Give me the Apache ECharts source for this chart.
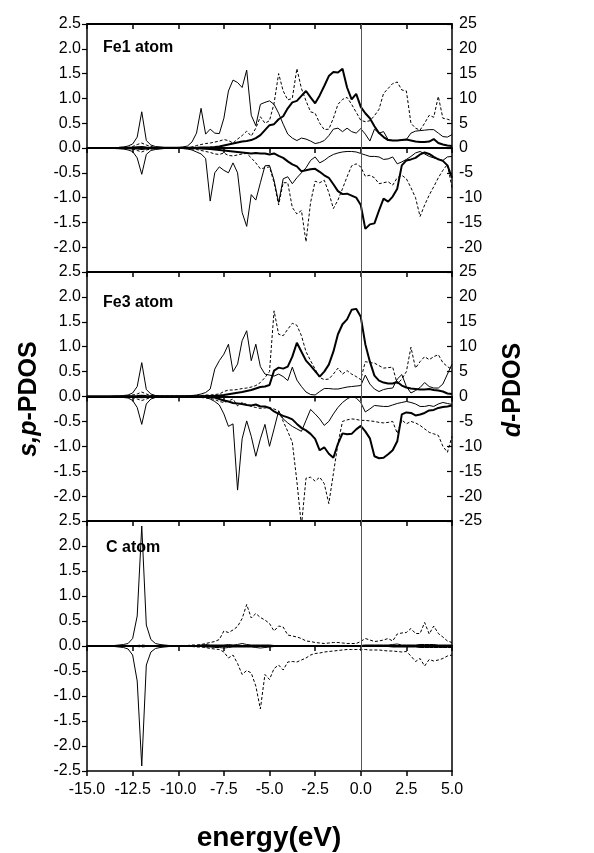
<!DOCTYPE html>
<html><head><meta charset="utf-8">
<script src="https://cdn.jsdelivr.net/npm/echarts@6/dist/echarts.min.js"></script>
<style>html,body{margin:0;padding:0;background:#fff}#c{width:594px;height:853px}</style>
</head><body><div id="c"></div>
<script>
// energy grid (eV)
const energy = [-15,-14.75,-14.5,-14.25,-14,-13.75,-13.5,-13.25,-13,-12.75,-12.5,-12.25,-12,-11.75,-11.5,-11.25,-11,-10.75,-10.5,-10.25,-10,-9.75,-9.5,-9.25,-9,-8.75,-8.5,-8.25,-8,-7.75,-7.5,-7.25,-7,-6.75,-6.5,-6.25,-6,-5.75,-5.5,-5.25,-5,-4.75,-4.5,-4.25,-4,-3.75,-3.5,-3.25,-3,-2.75,-2.5,-2.25,-2,-1.75,-1.5,-1.25,-1,-0.75,-0.5,-0.25,0,0.25,0.5,0.75,1,1.25,1.5,1.75,2,2.25,2.5,2.75,3,3.25,3.5,3.75,4,4.25,4.5,4.75,5];

// ---- Fe1 atom ----
const fe1SUp = [0,0,0,0, 0,0,0.01,0.01, 0.02,0.04,0.08,0.22, 0.73,0.15,0.06,0.03, 0.02,0.01,0.01,0.01, 0.01,0.02,0.04,0.12, 0.30,0.80,0.28,0.38, 0.30,0.29,0.60,1.15, 1.37,1.32,1.22,1.57, 0.66,0.45,0.88,0.92, 0.95,0.88,0.70,0.48, 0.28,0.20,0.15,0.20, 0.18,0.14,0.09,0.11, 0.15,0.25,0.38,0.40, 0.33,0.40,0.33,0.30, 0.39,0.28,0.14,0.38, 0.30,0.33,0.17,0.15, 0.15,0.16,0.17,0.30, 0.34,0.35,0.36,0.37, 0.37,0.30,0.23,0.22, 0.27];
const fe1PUp = [0,0,0,0, 0,0,0,0, 0,0.01,0.03,0.07, 0.10,0.06,0.03,0.01, 0.01,0.01,0.01,0.01, 0.01,0.01,0.01,0.02, 0.05,0.07,0.09,0.10, 0.12,0.14,0.17,0.15, 0.10,0.18,0.25,0.34, 0.24,0.40,0.63,0.50, 0.55,0.90,1.50,1.15, 0.97,1.00,1.60,1.20, 0.95,0.73,0.70,0.50, 0.37,0.38,0.60,0.88, 0.98,1.02,0.88,0.72, 0.56,0.53,0.55,0.65, 0.78,1.10,1.20,1.30, 1.33,1.17,1.15,0.50, 0.40,0.36,0.50,0.66, 0.62,1.04,0.60,0.58, 0.55];
const fe1DUp = [0,0,0,0, 0,0,0.02,0.03, 0.05,0.07,0.1,0.15, 0.2,0.12,0.06,0.04, 0.03,0.03,0.03,0.03, 0.03,0.03,0.04,0.04, 0.05,0.1,0.12,0.15, 0.2,0.3,0.5,0.7, 0.9,1.1,1.3,1.4, 1.6,2.0,2.6,3.6, 4.6,4.8,5.8,6.4, 8.0,9.2,9.5,10.5, 11.5,10.2,9.0,10.6, 12.5,14.5,15.3,15.2, 16.0,12.2,9.8,10.9, 8.3,7.0,6.0,4.4, 3.0,2.2,1.6,1.5, 1.5,1.6,1.7,1.5, 1.3,1.2,1.2,1.3, 1.8,1.0,0.7,0.5, 0.4];
const fe1SDown = [0,0,0,0, 0,0,-0.01,-0.01, -0.02,-0.04,-0.07,-0.20, -0.53,-0.13,-0.05,-0.03, -0.02,-0.01,-0.01,-0.01, -0.01,-0.01,-0.02,-0.04, -0.08,-0.12,-0.21,-1.07, -0.50,-0.38,-0.45,-0.50, -0.30,-0.50,-1.30,-1.58, -0.94,-1.05,-0.70,-0.36, -0.35,-0.65,-1.10,-0.62, -0.58,-0.72,-0.60,-0.50, -0.40,-0.25,-0.18,-0.30, -0.25,-0.18,-0.13,-0.10, -0.08,-0.07,-0.07,-0.08, -0.11,-0.14,-0.17,-0.17, -0.18,-0.23,-0.22,-0.18, -0.32,-0.28,-0.23,-0.17, -0.10,-0.07,-0.12,-0.17, -0.20,-0.22,-0.25,-0.18, -0.17];
const fe1PDown = [0,0,0,0, 0,0,0,0, 0,-0.01,-0.02,-0.05, -0.08,-0.04,-0.02,-0.01, -0.01,-0.01,-0.01,-0.01, -0.01,-0.01,-0.01,-0.02, -0.03,-0.05,-0.07,-0.09, -0.12,-0.13,-0.10,-0.15, -0.16,-0.14,-0.12,-0.11, -0.20,-0.30,-0.42,-0.40, -0.38,-0.70,-1.15,-0.70, -0.70,-1.20,-1.33,-1.26, -1.89,-1.10,-0.67,-0.70, -0.65,-0.90,-1.22,-1.05, -0.82,-0.58,-0.36,-0.32, -0.38,-0.57,-0.55,-0.60, -0.72,-0.70,-0.68,-0.75, -0.60,-0.55,-0.62,-0.80, -1.00,-1.38,-1.15,-0.95, -0.78,-0.60,-0.45,-0.33, -0.80];
const fe1DDown = [0,0,0,0, 0,0,-0.02,-0.03, -0.04,-0.06,-0.08,-0.12, -0.2,-0.1,-0.05,-0.03, -0.02,-0.02,-0.02,-0.02, -0.02,-0.02,-0.03,-0.04, -0.05,-0.1,-0.15,-0.2, -0.3,-0.4,-0.5,-0.6, -0.7,-0.8,-0.9,-1.0, -1.1,-1.0,-1.1,-1.1, -1.3,-1.1,-1.6,-2.0, -2.7,-3.3,-3.7,-4.7, -4.5,-4.3,-4.2,-4.8, -5.5,-6.0,-7.3,-8.7, -9.3,-9.2,-9.6,-10.0, -11.5,-16.3,-15.4,-15.2, -12.6,-10.2,-10.8,-9.8, -8.2,-3.5,-2.5,-2.3, -2.0,-1.3,-0.9,-1.2, -1.8,-2.3,-2.6,-3.5, -6.0];

// ---- Fe3 atom ----
const fe3SUp = [0,0,0,0, 0,0,0.01,0.01, 0.02,0.03,0.07,0.20, 0.68,0.14,0.05,0.02, 0.01,0.01,0.01,0.01, 0.01,0.01,0.01,0.02, 0.03,0.05,0.08,0.15, 0.55,0.72,0.85,1.05, 0.50,0.65,1.12,1.32, 0.72,1.05,0.60,0.45, 0.43,0.41,0.45,0.40, 0.32,0.59,0.33,0.20, 0.09,0.04,0.03,0.10, 0.16,0.16,0.15,0.15, 0.17,0.19,0.20,0.21, 0.22,0.43,0.25,0.15, 0.10,0.14,0.16,0.17, 0.35,0.44,0.20,0.07, 0.12,0.18,0.28,0.20, 0.17,0.17,0.25,0.45, 0.65];
const fe3PUp = [0,0,0,0, 0,0,0,0, 0,0.01,0.03,0.05, 0.09,0.05,0.02,0.01, 0.01,0.01,0.01,0.01, 0.01,0.01,0.01,0.01, 0.02,0.02,0.03,0.03, 0.04,0.05,0.10,0.13, 0.13,0.14,0.16,0.17, 0.19,0.22,0.28,0.38, 0.50,1.72,1.25,1.22, 1.35,1.47,1.43,1.22, 0.90,0.72,0.55,0.38, 0.34,0.35,0.45,0.57, 0.45,0.52,0.45,0.40, 0.34,0.70,0.68,0.67, 0.62,0.57,0.58,0.59, 0.25,0.35,0.50,0.99, 0.57,0.70,0.80,0.74, 0.80,0.84,0.68,0.60, 0.54];
const fe3DUp = [0,0,0,0, 0,0,0.01,0.02, 0.03,0.05,0.07,0.1, 0.15,0.08,0.04,0.03, 0.02,0.02,0.02,0.02, 0.02,0.02,0.03,0.04, 0.05,0.07,0.1,0.12, 0.15,0.2,0.3,0.45, 0.6,0.75,0.9,1.1, 1.3,1.6,1.9,2.0, 2.3,5.2,5.8,5.6, 6.0,8.0,10.8,9.0, 7.2,6.2,5.1,4.0, 5.0,6.4,9.0,12.5, 14.5,15.5,17.4,17.6, 16.0,10.5,7.0,4.2, 3.2,2.8,2.6,2.6, 2.9,2.2,1.8,1.6, 1.5,1.4,1.4,1.5, 1.3,1.2,1.0,0.6, 0.5];
const fe3SDown = [0,0,0,0, 0,0,-0.01,-0.01, -0.02,-0.03,-0.08,-0.22, -0.56,-0.15,-0.05,-0.02, -0.01,-0.01,-0.01,-0.01, -0.01,-0.01,-0.01,-0.01, -0.01,-0.01,-0.02,-0.05, -0.10,-0.17,-0.35,-0.60, -0.55,-1.88,-0.85,-0.49, -0.80,-1.20,-0.85,-0.56, -1.00,-0.65,-0.29,-0.45, -0.53,-0.60,-0.65,-0.70, -0.48,-0.26,-0.35,-0.45, -0.58,-0.50,-0.35,-0.22, -0.12,-0.05,0.00,-0.03, -0.12,-0.31,-0.25,-0.18, -0.19,-0.20,-0.20,-0.17, -0.14,-0.12,-0.10,-0.12, -0.15,-0.20,-0.20,-0.18, -0.20,-0.15,-0.12,-0.14, -0.16];
const fe3PDown = [0,0,0,0, 0,0,0,0, 0,-0.01,-0.02,-0.05, -0.08,-0.05,-0.02,-0.01, -0.01,-0.01,-0.01,-0.01, -0.01,-0.01,-0.01,-0.01, -0.01,-0.02,-0.03,-0.04, -0.06,-0.10,-0.12,-0.09, -0.05,-0.19,-0.12,-0.16, -0.20,-0.22,-0.24,-0.23, -0.22,-0.25,-0.29,-0.50, -0.70,-0.92,-1.70,-2.60, -1.64,-1.62,-1.70,-1.62, -1.75,-2.15,-1.55,-0.95, -0.50,-0.47,-0.45,-0.46, -0.48,-0.48,-0.49,-0.50, -0.52,-0.53,-0.52,-0.50, -0.74,-0.47,-0.55,-0.50, -0.53,-0.58,-0.65,-0.72, -0.75,-0.78,-1.00,-1.12, -0.80];
const fe3DDown = [0,0,0,0, 0,0,-0.01,-0.02, -0.03,-0.05,-0.07,-0.1, -0.15,-0.08,-0.04,-0.03, -0.02,-0.02,-0.02,-0.02, -0.02,-0.02,-0.03,-0.04, -0.05,-0.07,-0.1,-0.15, -0.2,-0.5,-0.8,-1.0, -1.3,-1.4,-1.5,-1.7, -1.8,-1.6,-2.0,-2.0, -2.3,-3.0,-3.5,-3.9, -4.2,-4.6,-5.5,-6.3, -6.8,-7.5,-8.5,-10.8, -10.2,-11.5,-12.3,-9.5, -7.4,-7.6,-7.5,-6.6, -5.9,-7.0,-8.4,-12.0, -12.4,-12.3,-11.6,-10.8, -9.0,-3.6,-3.2,-3.3, -3.8,-3.6,-3.3,-2.8, -2.7,-2.3,-2.1,-2.0, -1.8];

// ---- C atom ----
const cSUp = [0,0,0,0, 0,0.01,0.01,0.02, 0.03,0.05,0.15,0.60, 2.40,0.42,0.13,0.05, 0.03,0.02,0.01,0.01, 0.01,0.01,0.01,0.01, 0.01,0.02,0.03,0.02, 0.02,0.02,0.02,0.03, 0.02,0.03,0.05,0.03, 0.02,0.02,0.02,0.02, 0.02,0.01,0.01,0.01, 0.01,0.01,0.01,0.01, 0.01,0.01,0.01,0.01, 0.01,0.01,0.01,0.01, 0.01,0.01,0.01,0.01, 0.01,0.02,0.02,0.02, 0.02,0.02,0.02,0.03, 0.04,0.02,0.02,0.02, 0.02,0.03,0.03,0.03, 0.03,0.02,0.02,0.02, 0.02];
const cSDown = [0,0,0,0, 0,-0.01,-0.01,-0.02, -0.03,-0.06,-0.18,-0.70, -2.40,-0.38,-0.12,-0.05, -0.03,-0.02,-0.01,-0.01, -0.01,-0.01,-0.01,-0.01, -0.01,-0.01,-0.02,-0.02, -0.03,-0.03,-0.04,-0.03, -0.02,-0.02,-0.02,-0.02, -0.02,-0.03,-0.04,-0.03, -0.02,-0.01,-0.01,-0.01, -0.01,-0.01,-0.01,-0.01, -0.01,-0.01,-0.01,-0.01, -0.01,-0.01,-0.01,-0.01, -0.01,-0.01,-0.01,-0.01, -0.01,-0.01,-0.01,-0.01, -0.01,-0.01,-0.01,-0.02, -0.02,-0.02,-0.02,-0.02, -0.02,-0.03,-0.03,-0.03, -0.03,-0.03,-0.03,-0.03, -0.03];
const cPUp = [0,0,0,0, 0,0,0,0, 0,0,0.01,0.01, 0.02,0.01,0.01,0.01, 0.01,0.01,0.01,0.01, 0.01,0.01,0.01,0.02, 0.02,0.03,0.05,0.07, 0.09,0.13,0.30,0.27, 0.32,0.39,0.55,0.83, 0.56,0.65,0.57,0.52, 0.45,0.30,0.40,0.38, 0.22,0.20,0.18,0.15, 0.10,0.09,0.07,0.06, 0.05,0.06,0.07,0.07, 0.06,0.05,0.05,0.05, 0.09,0.15,0.12,0.09, 0.10,0.12,0.15,0.10, 0.24,0.26,0.27,0.35, 0.25,0.25,0.47,0.24, 0.40,0.25,0.18,0.10, 0.07];
const cPDown = [0,0,0,0, 0,0,0,0, 0,0,-0.01,-0.01, -0.02,-0.01,-0.01,-0.01, -0.01,-0.01,-0.01,-0.01, -0.01,-0.01,-0.01,-0.01, -0.02,-0.02,-0.03,-0.05, -0.06,-0.07,-0.12,-0.24, -0.18,-0.35,-0.57,-0.49, -0.54,-0.80,-1.26,-0.57, -0.67,-0.45,-0.38,-0.48, -0.32,-0.31,-0.32,-0.28, -0.24,-0.18,-0.15,-0.14, -0.12,-0.11,-0.10,-0.09, -0.08,-0.07,-0.07,-0.07, -0.07,-0.07,-0.08,-0.08, -0.08,-0.09,-0.10,-0.10, -0.11,-0.12,-0.11,-0.20, -0.31,-0.25,-0.40,-0.27, -0.30,-0.28,-0.25,-0.20, -0.18];

// axis ticks
const xTicks = [-15,-12.5,-10,-7.5,-5,-2.5,0,2.5,5];
const spTicks = [-2.5,-2,-1.5,-1,-0.5,0,0.5,1,1.5,2,2.5];
const dTicks = [-25,-20,-15,-10,-5,0,5,10,15,20,25];
const panelLabels = ['Fe1 atom','Fe3 atom','C atom'];

const FONT = '"Liberation Sans", Arial, Helvetica, sans-serif';
const BLACK = '#000';
const pairs = v => energy.map((e, i) => [e, v[i]]);

const panels = [
  {s:[fe1SUp, fe1SDown], p:[fe1PUp, fe1PDown], d:[fe1DUp, fe1DDown]},
  {s:[fe3SUp, fe3SDown], p:[fe3PUp, fe3PDown], d:[fe3DUp, fe3DDown]},
  {s:[cSUp, cSDown], p:[cPUp, cPDown], d:null}
];
const gridPos = [{top:24,height:248},{top:272,height:249},{top:521,height:250}];
const grid = gridPos.map(g => ({left:87, right:142, top:g.top, height:g.height}));

const xMin = xTicks[0], xMax = xTicks[xTicks.length-1], xInt = xTicks[1]-xTicks[0];
const xAxis = [], yAxis = [], series = [];
panels.forEach((pn, g) => {
  // zero line axis (series axis)
  xAxis.push({gridIndex:g, type:'value', min:xMin, max:xMax, interval:xInt, position:'bottom',
    axisLine:{show:true, onZero:true, lineStyle:{color:BLACK, width:2}},
    axisTick:{show:true, inside:false, length:5, lineStyle:{color:BLACK, width:1.5}},
    axisLabel:{show:false}, splitLine:{show:false}});
  // top border axis
  xAxis.push({gridIndex:g, type:'value', min:xMin, max:xMax, interval:xInt, position:'top',
    axisLine:{show:true, onZero:false, lineStyle:{color:BLACK, width:2}},
    axisTick:{show:true, inside:true, length:5, lineStyle:{color:BLACK, width:1.5}},
    axisLabel:{show:false}, splitLine:{show:false}});
  const yl = spTicks, yr = dTicks;
  yAxis.push({gridIndex:g, type:'value', min:yl[0], max:yl[yl.length-1], interval:yl[1]-yl[0], position:'left',
    axisLine:{show:true, onZero:false, lineStyle:{color:BLACK, width:1.5}},
    axisTick:{show:true, inside:false, length:5, lineStyle:{color:BLACK, width:1.2}},
    axisLabel:{show:true, color:BLACK, fontSize:16, fontFamily:FONT, margin:6, showMinLabel: g===2, showMaxLabel:true,
      formatter: v => (Math.abs(v) < 1e-9 ? 0 : v).toFixed(1)},
    splitLine:{show:false}});
  yAxis.push({gridIndex:g, type:'value', min:yr[0], max:yr[yr.length-1], interval:yr[1]-yr[0], position:'right',
    axisLine:{show:true, onZero:false, lineStyle:{color:BLACK, width:1.5}},
    axisTick:{show: g<2, inside:true, length:5, lineStyle:{color:BLACK, width:1.2}},
    axisLabel:{show: g<2, color:BLACK, fontSize:16, fontFamily:FONT, margin:7, showMinLabel: g===1, showMaxLabel:true,
      formatter: v => String(Math.round(v))},
    splitLine:{show:false}});
  const xi = 2*g, yi = 2*g, ydi = 2*g+1;
  const thin = {color:BLACK, width:1};
  const dash = {color:BLACK, width:1, type:[3,2]};
  const thick = {color:BLACK, width:2};
  pn.s.forEach((arr, k) => series.push({type:'line', xAxisIndex:xi, yAxisIndex:yi, data:pairs(arr), showSymbol:false, symbol:'none', lineStyle:thin, silent:true,
    markLine: k===0 ? {silent:true, symbol:['none','none'], label:{show:false}, lineStyle:{color:'#555', width:1, type:'solid'}, data:[{xAxis:0}]} : undefined}));
  pn.p.forEach(arr => series.push({type:'line', xAxisIndex:xi, yAxisIndex:yi, data:pairs(arr), showSymbol:false, symbol:'none', lineStyle:dash, silent:true}));
  if (pn.d) pn.d.forEach(arr => series.push({type:'line', xAxisIndex:xi, yAxisIndex:ydi, data:pairs(arr), showSymbol:false, symbol:'none', lineStyle:thick, silent:true}));
});
// bottom labelled axis of last panel
xAxis.push({gridIndex:2, type:'value', min:xMin, max:xMax, interval:xInt, position:'bottom',
  axisLine:{show:true, onZero:false, lineStyle:{color:BLACK, width:1.5}},
  axisTick:{show:true, inside:false, length:5, lineStyle:{color:BLACK, width:1.5}},
  axisLabel:{show:true, color:BLACK, fontSize:16, fontFamily:FONT, margin:11, formatter: v => (Math.abs(v)<1e-9?0:v).toFixed(1)},
  splitLine:{show:false}});

const labelY = [47.5, 302.5, 548];
const labelX = [103, 103, 106];
const graphic = panelLabels.map((t, i) => ({type:'text', x:labelX[i], y:labelY[i], silent:true,
  style:{text:t, fill:BLACK, font:'bold 16px ' + FONT, textAlign:'left', textVerticalAlign:'middle'}}));
graphic.push({type:'text', x:29, y:399, rotation:Math.PI/2, silent:true,
  style:{text:'{i|s,p}{n|-PDOS}', fill:BLACK, textAlign:'center', textVerticalAlign:'middle',
    rich:{i:{fontStyle:'italic', fontWeight:'bold', fontSize:25, fontFamily:FONT, fill:BLACK},
          n:{fontWeight:'bold', fontSize:25, fontFamily:FONT, fill:BLACK}}}});
graphic.push({type:'text', x:513, y:390, rotation:Math.PI/2, silent:true,
  style:{text:'{i|d}{n|-PDOS}', fill:BLACK, textAlign:'center', textVerticalAlign:'middle',
    rich:{i:{fontStyle:'italic', fontWeight:'bold', fontSize:25, fontFamily:FONT, fill:BLACK},
          n:{fontWeight:'bold', fontSize:25, fontFamily:FONT, fill:BLACK}}}});
graphic.push({type:'text', x:269, y:838, silent:true,
  style:{text:'energy(eV)', fill:BLACK, font:'bold 28px ' + FONT, textAlign:'center', textVerticalAlign:'middle'}});

const chart = echarts.init(document.getElementById('c'), null, {renderer:'canvas'});
chart.setOption({animation:false, backgroundColor:'#fff', grid, xAxis, yAxis, series, graphic});
</script></body></html>
